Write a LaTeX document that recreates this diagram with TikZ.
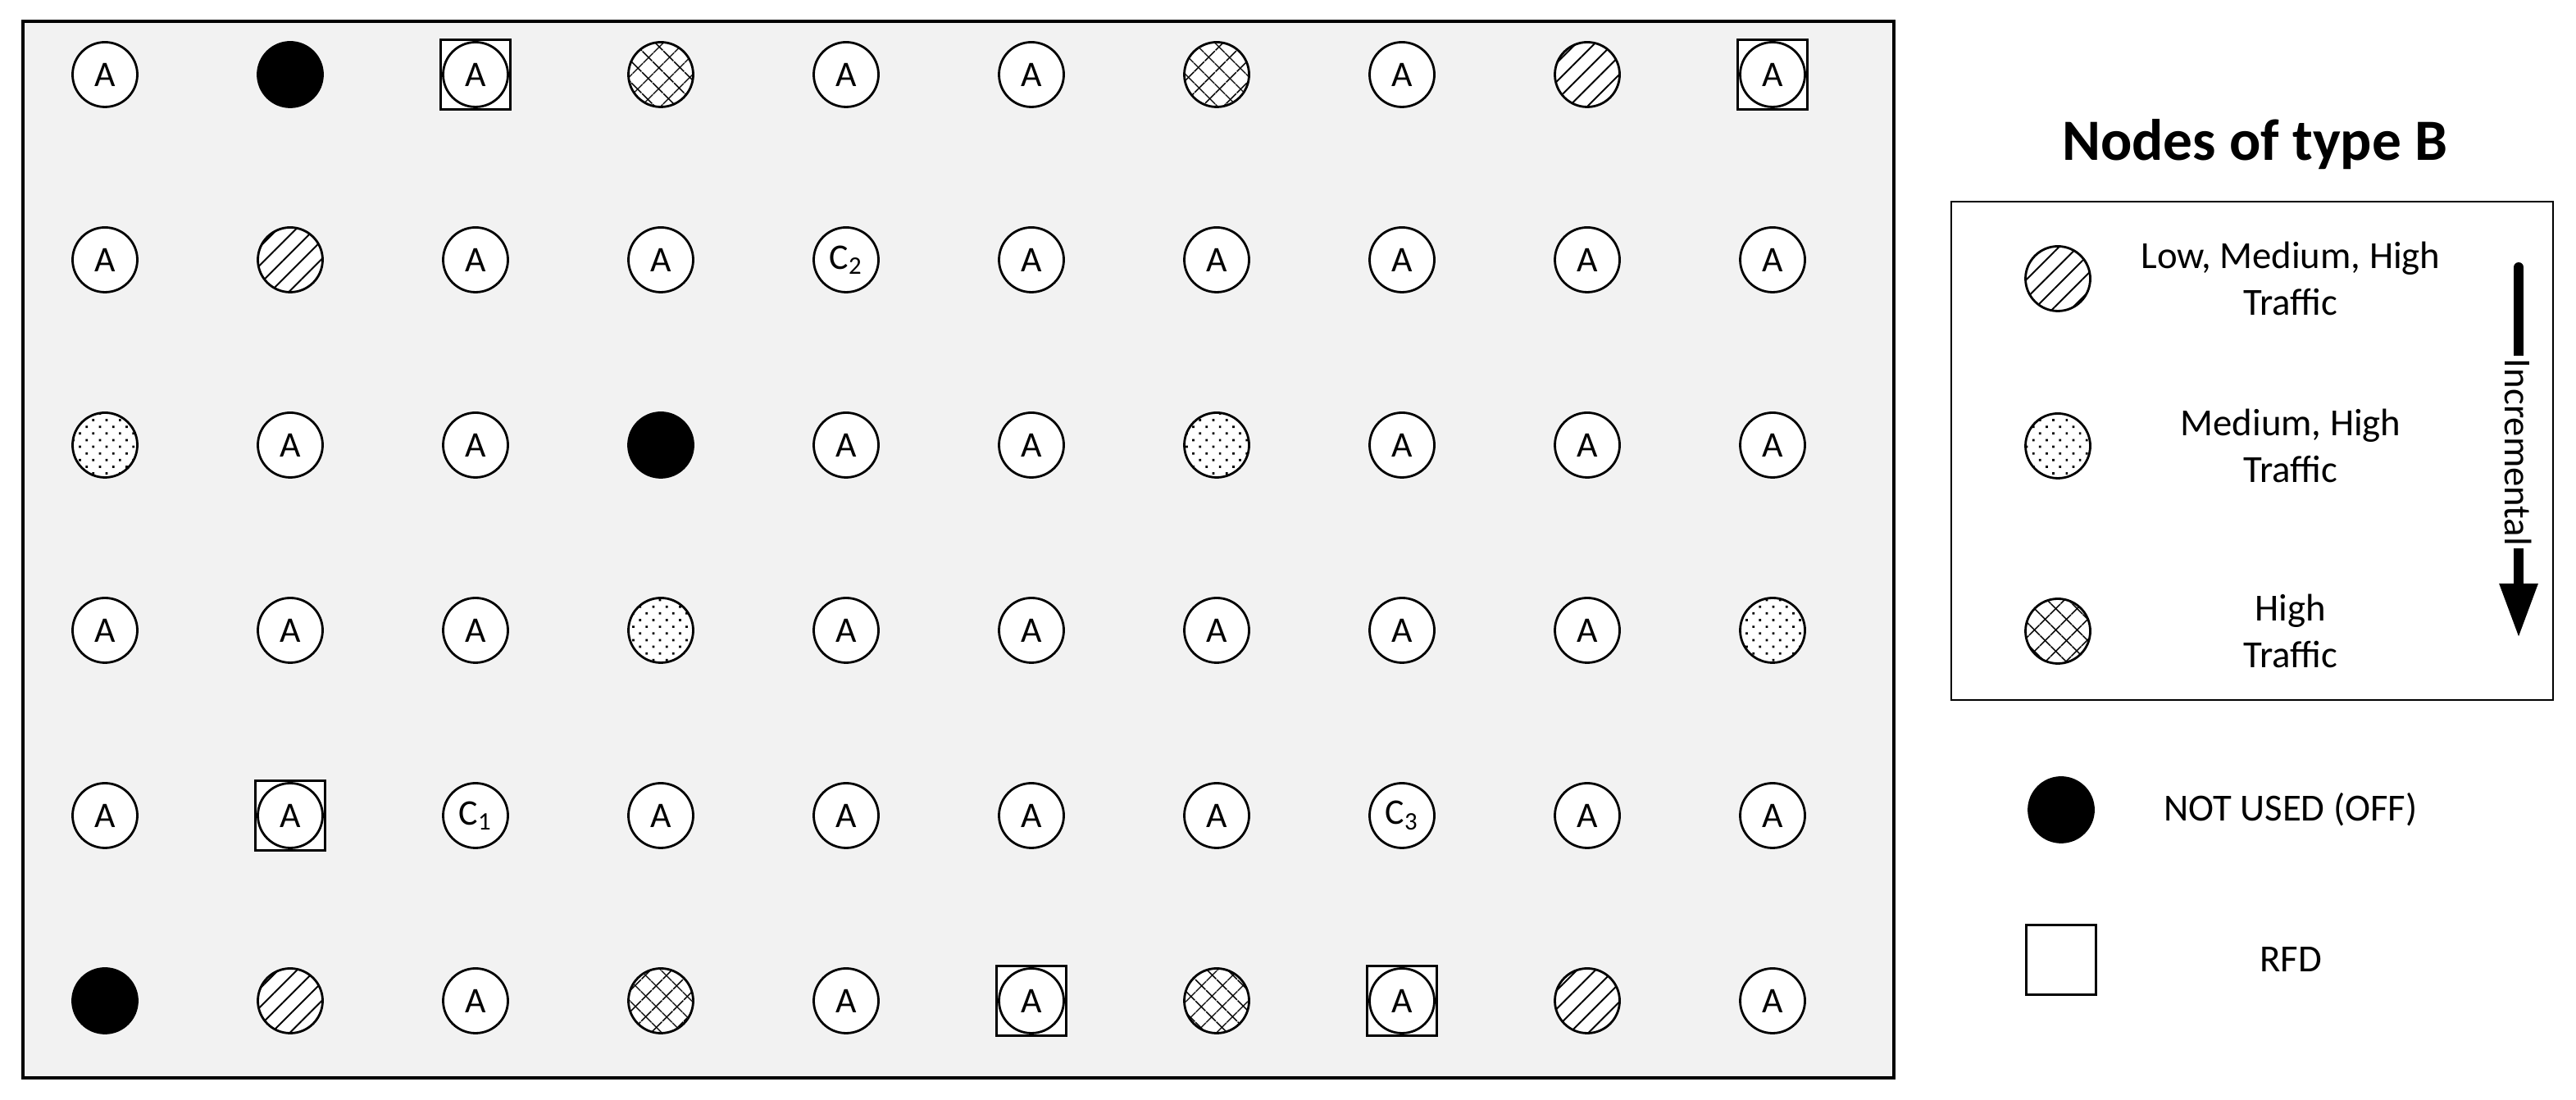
\documentclass[tikz,border=0pt]{standalone}
\usepackage{fontspec}
\setmainfont{Carlito}
\usepackage{tikz}
\usetikzlibrary{arrows.meta, patterns.meta}

\definecolor{gridbg}{RGB}{242,242,242}

\tikzstyle{base} = [circle, draw, line width=0.8pt, minimum size=7.9mm, inner sep=0pt, font=\fontsize{12.5}{15}\selectfont]
\tikzstyle{typeA} = [base, fill=white, node contents=A]
\tikzstyle{off} = [base, fill=black, node contents={}]
\tikzstyle{low} = [base, preaction={fill=white}, pattern={Lines[angle=45, distance=1.6mm, line width=0.55pt]}, node contents={}]
\tikzstyle{med} = [base, preaction={fill=white}, pattern={Dots[angle=45, distance=1.15mm, radius=0.55pt]}, node contents={}]
\tikzstyle{high} = [base, preaction={fill=white}, pattern={Lines[angle=45, distance=1.8mm, line width=0.5pt]}, postaction={pattern={Lines[angle=-45, distance=1.8mm, line width=0.5pt]}}, node contents={}]
\tikzset{typeC/.style={base, fill=white, node contents={C\textsubscript{#1}}}}
\tikzstyle{c1} = [typeC=1]
\tikzstyle{c2} = [typeC=2]
\tikzstyle{c3} = [typeC=3]
\tikzstyle{rfdbox} = [rectangle, draw, fill=white, line width=0.75pt, minimum size=8.5mm]
\tikzstyle{legtext} = [align=center, font=\fontsize{13.3}{16}\selectfont]
\tikzstyle{arrow} = [-{Triangle[length=6.6mm, width=4.4mm]}, line width=3.4pt, line cap=round]

\begin{document}
\begin{tikzpicture}[x=0.2mm, y=0.2mm]
    \useasboundingbox (0,0) rectangle (1571,671);

    \draw[fill=gridbg, line width=1pt] (14,13.5) rectangle (1155,658);

    % RFD boxes go first so the nodes sit on top
    \foreach \r/\c in {1/3, 1/10, 5/2, 6/6, 6/8}
        \node (rfd-\r-\c) at ({64+113*(\c-1)}, {625.5-113*(\r-1)}) [rfdbox] {};

    \foreach \row [count=\r] in {
        {typeA,off,typeA,high,typeA,typeA,high,typeA,low,typeA},
        {typeA,low,typeA,typeA,c2,typeA,typeA,typeA,typeA,typeA},
        {med,typeA,typeA,off,typeA,typeA,med,typeA,typeA,typeA},
        {typeA,typeA,typeA,med,typeA,typeA,typeA,typeA,typeA,med},
        {typeA,typeA,c1,typeA,typeA,typeA,typeA,c3,typeA,typeA},
        {off,low,typeA,high,typeA,typeA,high,typeA,low,typeA}}
        \foreach \kind [count=\c] in \row
            \node (n-\r-\c) at ({64+113*(\c-1)}, {625.5-113*(\r-1)}) [\kind];

    % legend
    \node (title) at (1375,583) {\fontsize{20.3}{24}\selectfont\bfseries Nodes of type B};
    \draw[line width=0.8pt] (1190,244) rectangle (1557,548);

    \node (lg-low) at (1255,501) [low];
    \node (lg-med) at (1255,399) [med];
    \node (lg-high) at (1255,286) [high];
    \node[legtext] (txt-low) at (1397,501) {Low, Medium, High\\Traffic};
    \node[legtext] (txt-med) at (1397,399) {Medium, High\\Traffic};
    \node[legtext] (txt-high) at (1397,286) {High\\Traffic};

    \coordinate (inc-top) at (1536,508);
    \coordinate (inc-tip) at (1536,282);
    \draw[arrow] (inc-top) -- node[legtext, rotate=-90, fill=white, inner sep=1pt] (inc) {Incremental} (inc-tip);

    \node (lg-off) at (1257,177) [off];
    \node[legtext] (txt-off) at (1397,177) {NOT USED (OFF)};
    \node (lg-rfd) at (1257,85.5) [rfdbox] {};
    \node[legtext] (txt-rfd) at (1397,85.5) {RFD};

\end{tikzpicture}
\end{document}
